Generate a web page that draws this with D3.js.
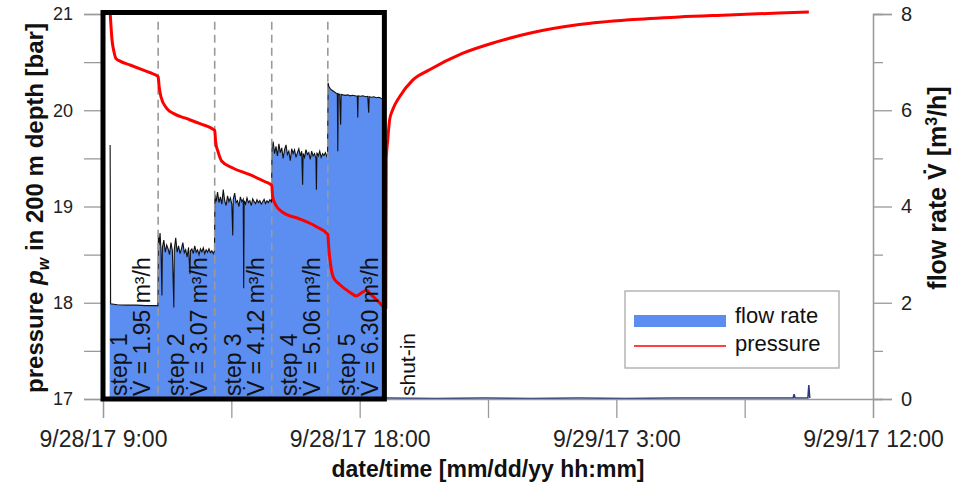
<!DOCTYPE html>
<html><head><meta charset="utf-8">
<script src="https://cdn.jsdelivr.net/npm/d3@7"></script>
<style>
body{margin:0;background:#fff}
text{font-family:"Liberation Sans",Arial,sans-serif}
</style>
</head><body><svg id="c" width="970" height="485"></svg>
<script>
// ---------- data ----------
const startTime = "2017-09-28 09:00";
const endTime = "2017-09-29 12:00";
const xTickTimes = ["2017-09-28 09:00","2017-09-28 13:30","2017-09-28 18:00","2017-09-28 22:30",
                    "2017-09-29 03:00","2017-09-29 07:30","2017-09-29 12:00"];
const xLabelTimes = ["2017-09-28 09:00","2017-09-28 18:00","2017-09-29 03:00","2017-09-29 12:00"];
const pressureTicks = [17,17.5,18,18.5,19,19.5,20,20.5,21];
const pressureLabels = [17,18,19,20,21];
const flowMajorTicks = [0,2,4,6,8];
const flowMinorTicks = [1,3,5,7];

const stepNames = ["step 1","step 2","step 3","step 4","step 5"];
const stepRates = ["1.95","3.07","4.12","5.06","6.30"];
// minutes after 9/28/17 9:00 at which each step ends
const stepEndMin = [116,235,355,473,595];

// pressure p_w [bar] (minutes after start)
const pressureMin = [15,19,23,27,36,57,78,99,116,118,122,134,151,172,204,235,237,242,250,273,309,340,355,
  357,363,378,414,449,473,475,479,485,498,519,533,546,555,563,578,590,595,596,599,603,609,624,651,687,756,
  828,897,1002,1107,1212,1317,1422,1485];
const pressureVal = [21.02,20.73,20.61,20.54,20.51,20.47,20.43,20.39,20.35,20.25,20.14,20.02,19.96,19.92,19.86,
  19.79,19.67,19.57,19.47,19.40,19.33,19.26,19.22,19.10,19.02,18.94,18.87,18.79,18.71,18.57,18.39,18.26,18.19,
  18.11,18.07,18.11,18.13,18.09,18.02,17.96,17.95,19.50,19.69,19.90,20.00,20.14,20.31,20.42,20.59,20.71,20.80,
  20.89,20.94,20.97,20.99,21.01,21.02];

// flow rate during the injection steps [m3/h]
const flowMin = [14,15,16,30,50,70,90,115.5,
  116.5,118,120,122,124,125,128,131,134,137,140,143,146,149,150,153,156,159,162,165,168,171,174,177,180,183,184,
  187,190,193,196,199,202,205,208,211,214,217,220,223,226,229,232,234.5,
  235.5,238,241,244,247,250,253,256,259,262,265,268,271,273,274,277,280,283,286,289,292,295,296,297,300,303,306,
  309,312,315,318,321,324,327,330,333,336,339,342,345,348,351,354.5,
  355.5,358,361,364,367,370,373,376,379,382,385,388,391,394,397,400,403,406,409,412,415,418,420,421,424,427,430,
  433,436,439,442,445,448,449,450,453,456,459,462,465,468,471,472.5,
  473.5,475,478,481,484,487,490,493,494,495,498,500,501,505,510,515,520,525,530,535,536,537,542,547,552,557,559,
  560,565,570,575,580,585,590,594.5,595];
const flowVal = [0,5.28,1.98,1.96,1.95,1.95,1.94,1.94,
  3.40,3.20,3.45,3.10,2.15,3.15,3.30,3.05,3.20,3.12,3.00,3.25,3.08,1.90,3.10,3.35,3.05,3.18,3.02,3.12,3.25,3.04,
  3.10,2.95,3.15,2.60,3.08,3.12,3.02,3.18,3.05,3.10,3.00,3.12,3.06,3.14,3.02,3.10,3.05,3.12,3.04,3.08,3.02,3.08,
  4.25,4.10,4.30,4.08,4.20,4.05,4.35,4.12,4.02,4.22,4.10,4.18,4.05,3.40,4.15,4.28,4.08,4.12,4.00,4.20,4.10,4.15,
  2.30,4.12,4.05,4.18,4.08,4.12,4.02,4.16,4.10,4.06,4.14,4.08,4.12,4.05,4.10,4.15,4.06,4.12,4.08,4.14,4.10,
  5.20,5.35,5.10,5.25,5.05,5.30,5.12,5.22,5.00,5.18,5.28,5.08,5.15,4.95,5.20,5.10,5.18,5.02,5.12,5.20,5.05,5.15,
  4.45,5.10,5.02,5.18,5.08,5.12,4.98,5.15,5.05,5.10,5.00,4.35,5.12,5.05,5.15,5.02,5.10,5.06,5.12,5.04,5.08,
  6.57,6.50,6.45,6.42,6.40,6.38,6.36,6.35,5.15,6.34,6.33,5.70,6.33,6.32,6.31,6.32,6.30,6.31,6.30,6.29,5.85,6.30,
  6.29,6.30,6.28,6.29,5.95,6.28,6.27,6.28,6.26,6.27,6.25,6.24,6.24,0];

// flow rate after shut-in
const shutInMin = [595,700,800,900,1000,1100,1200,1300,1400,1452,1454,1456,1483,1485,1487];
const shutInVal = [0.02,0.01,0.02,0.01,0.02,0.01,0.02,0.02,0.02,0.02,0.10,0.02,0.02,0.29,0.02];

const legendItems = ["flow rate","pressure"];

// ---------- chart ----------
const svg = d3.select("#c");
const parse = d3.timeParse("%Y-%m-%d %H:%M");
const t0 = parse(startTime);
const toDate = m => new Date(t0.getTime() + m*60000);

const x = d3.scaleTime().domain([t0, parse(endTime)]).range([103, 873]);
const yP = d3.scaleLinear().domain([17,21]).range([399,14]);
const yF = d3.scaleLinear().domain([0,8]).range([399,14]);

const flowData = flowMin.map((m,i)=>({t:toDate(m), v:flowVal[i]}));
const shutData = shutInMin.map((m,i)=>({t:toDate(m), v:shutInVal[i]}));
const presData = pressureMin.map((m,i)=>({t:toDate(m), v:pressureVal[i]}));

// flow area
svg.append("path").datum(flowData)
  .attr("d", d3.area().x(d=>x(d.t)).y0(yF(0)).y1(d=>yF(d.v)))
  .attr("fill","#5b8ef0");
svg.append("path").datum(flowData.slice(1, flowData.length-1))
  .attr("d", d3.line().x(d=>x(d.t)).y(d=>yF(d.v)))
  .attr("fill","none").attr("stroke","#111").attr("stroke-width",1.1);
svg.append("path").datum(shutData)
  .attr("d", d3.line().x(d=>x(d.t)).y(d=>yF(d.v)))
  .attr("fill","none").attr("stroke","#2b3a7a").attr("stroke-width",1.5);

// step boundaries
svg.selectAll("line.step").data(stepEndMin.slice(0,4)).enter().append("line")
  .attr("x1",d=>x(toDate(d))).attr("x2",d=>x(toDate(d)))
  .attr("y1",yP(20.92)).attr("y2",yP(17))
  .attr("stroke","#9a9a9a").attr("stroke-width",1.6).attr("stroke-dasharray","8,5");

// axes
const axisColor = "#9a9a9a";
function styleAxis(g, fs){
  g.select(".domain").attr("stroke",axisColor).attr("stroke-width",1.3);
  g.selectAll(".tick line").attr("stroke",axisColor).attr("stroke-width",1.3);
  g.selectAll(".tick text").attr("fill","#222").style("font-size",fs+"px")
   .style("font-family","'Liberation Sans',Arial,sans-serif");
}
const labelSet = new Set(xLabelTimes.map(s=>parse(s).getTime()));
const fmt = d3.timeFormat("%-m/%-d/%y %-H:%M");
const gx = svg.append("g").attr("transform",`translate(0,${yP(17)})`)
  .call(d3.axisBottom(x).tickValues(xTickTimes.map(parse)).tickSize(19).tickPadding(13)
    .tickFormat(d=>labelSet.has(d.getTime())?fmt(d):""));
styleAxis(gx, 23);

const gl = svg.append("g").attr("transform",`translate(${x(t0)},0)`)
  .call(d3.axisLeft(yP).tickValues(pressureTicks).tickSize(19).tickPadding(11)
    .tickFormat(d=>pressureLabels.includes(d)?d:""));
styleAxis(gl, 18);

const gr2 = svg.append("g").attr("transform",`translate(${x(parse(endTime))},0)`)
  .call(d3.axisRight(yF).tickValues(flowMinorTicks).tickSize(10).tickFormat(""));
styleAxis(gr2, 20);
const gr = svg.append("g").attr("transform",`translate(${x(parse(endTime))},0)`)
  .call(d3.axisRight(yF).tickValues(flowMajorTicks).tickSize(19).tickPadding(9));
styleAxis(gr, 20);

// pressure
svg.append("path").datum(presData)
  .attr("d", d3.line().x(d=>x(d.t)).y(d=>yP(d.v)).curve(d3.curveMonotoneX))
  .attr("fill","none").attr("stroke","#ff0000").attr("stroke-width",3);

// highlight box around the injection steps
svg.append("rect")
  .attr("x",x(t0)).attr("y",yP(21)-1.5)
  .attr("width",x(toDate(stepEndMin[4]-3))-x(t0)).attr("height",yP(17)-yP(21)+1.5)
  .attr("fill","none").attr("stroke","#000").attr("stroke-width",5);

// step labels
const lab = svg.append("g");
stepEndMin.forEach((m,i)=>{
  const xe = x(toDate(m));
  lab.append("text").attr("transform",`translate(${xe-31},396) rotate(-90)`)
    .style("font-size","23px").attr("fill","#111").text(stepNames[i]);
  lab.append("text").attr("transform",`translate(${xe-8},396) rotate(-90)`)
    .style("font-size","23px").attr("fill","#111").text(`V\u0307 = ${stepRates[i]} m\u00b3/h`);
});
lab.append("text").attr("transform",`translate(${x(toDate(stepEndMin[4]))+29},396) rotate(-90)`)
  .style("font-size","21px").attr("fill","#111").text("shut-in");

// axis titles
svg.append("text").attr("x",(x(t0)+x(parse(endTime)))/2).attr("y",477).attr("text-anchor","middle")
  .style("font-size","23px").style("font-weight","bold").attr("fill","#111").text("date/time [mm/dd/yy hh:mm]");

const lt = svg.append("text").attr("transform","translate(43,208) rotate(-90)").attr("text-anchor","middle")
  .style("font-size","24px").style("font-weight","bold").attr("fill","#111");
lt.append("tspan").text("pressure ");
lt.append("tspan").style("font-style","italic").text("p");
lt.append("tspan").attr("dy",6).style("font-size","16px").style("font-style","italic").text("w");
lt.append("tspan").attr("dy",-6).text(" in 200 m depth [bar]");

const rt = svg.append("text").attr("transform","translate(946,188) rotate(-90)").attr("text-anchor","middle")
  .style("font-size","25px").style("font-weight","bold").attr("fill","#111");
rt.append("tspan").text("flow rate V\u0307 [m");
rt.append("tspan").attr("dy",-9).style("font-size","16px").text("3");
rt.append("tspan").attr("dy",9).text("/h]");

// legend
const lg = svg.append("g");
lg.append("rect").attr("x",625).attr("y",291).attr("width",214).attr("height",77)
  .attr("fill","#fff").attr("stroke","#aaa").attr("stroke-width",1.3);
lg.append("rect").attr("x",634).attr("y",315).attr("width",92).attr("height",12).attr("fill","#5b8ef0");
lg.append("line").attr("x1",634).attr("x2",726).attr("y1",346).attr("y2",346)
  .attr("stroke","#ff0000").attr("stroke-width",1.3);
lg.selectAll("text").data(legendItems).enter().append("text")
  .attr("x",735).attr("y",(d,i)=>i===0?323:351)
  .style("font-size","22px").attr("fill","#111").text(d=>d);
</script>
</body></html>
